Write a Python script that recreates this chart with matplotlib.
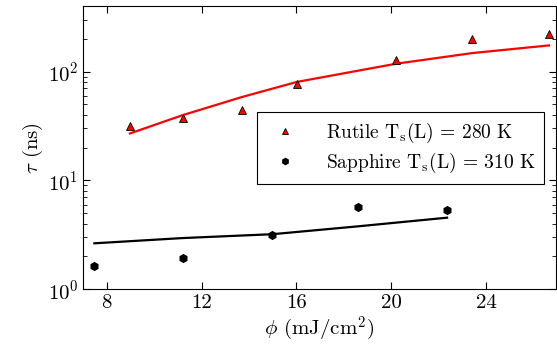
import matplotlib
matplotlib.use("Agg")
import matplotlib.pyplot as plt

plt.rcParams['font.family'] = ['cmr10', 'DejaVu Serif']
plt.rcParams['mathtext.fontset'] = 'cm'
plt.rcParams['axes.formatter.use_mathtext'] = True

rutile_phi = [8.98, 11.21, 13.72, 16.02, 20.2, 23.43, 26.66]
rutile_tau = [31.7, 37.8, 44.8, 76.4, 127, 199, 223]
rutile_fit = [27.0, 39.8, 58.5, 80.3, 118, 148, 174]

sapph_phi = [7.48, 11.21, 14.99, 18.6, 22.36]
sapph_tau = [1.65, 1.92, 3.15, 5.65, 5.34]
sapph_fit = [2.64, 2.95, 3.2, 3.78, 4.54]

xticks = [8, 12, 16, 20, 24]

fig = plt.figure(figsize=(5.57, 3.57), dpi=100)
ax = fig.add_axes([0.149, 0.19, 0.849, 0.793])

ax.plot(rutile_phi, rutile_fit, color='red', lw=1.6, zorder=2)
ax.plot(sapph_phi, sapph_fit, color='black', lw=1.6, zorder=2)
ax.plot(rutile_phi, rutile_tau, ls='none', marker='^', ms=5.5, mfc='red', mec='black', mew=0.6,
        label=r'Rutile T$_{\rm s}$(L) = 280 K', zorder=3)
ax.plot(sapph_phi, sapph_tau, ls='none', marker='h', ms=5.5, mfc='black', mec='black',
        label=r'Sapphire T$_{\rm s}$(L) = 310 K', zorder=3)

ax.set_yscale('log')
ax.set_xlim(7, 26.95)
ax.set_ylim(1, 400)
ax.set_xticks(xticks)
ax.set_xticklabels([str(t) for t in xticks])
ax.tick_params(which='both', direction='in', top=True, right=True, labelsize=15)
ax.tick_params(which='major', length=5)
ax.tick_params(which='minor', length=3)
ax.set_xlabel(r'$\phi$ (mJ/cm$^2$)', fontsize=15, labelpad=2)
ax.set_ylabel(r'$\tau$ (ns)', fontsize=15, labelpad=2)

leg = ax.legend(loc='upper left', bbox_to_anchor=(0.367, 0.626), borderaxespad=0,
                fontsize=14, markerscale=0.8,
                frameon=True, fancybox=False, edgecolor='black', framealpha=1,
                handlelength=2.0, handletextpad=1.1, borderpad=0.45, labelspacing=0.3)
leg.get_frame().set_linewidth(0.8)

fig.savefig('out.png', dpi=100)
